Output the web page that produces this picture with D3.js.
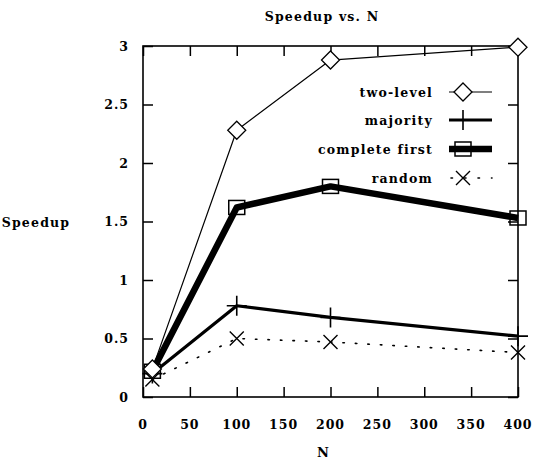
<!DOCTYPE html>
<html><head><meta charset="utf-8">
<script src="https://cdn.jsdelivr.net/npm/d3@7"></script>
<style>body{margin:0;background:#fff}</style>
</head><body><svg id="c" width="535" height="464"></svg>
<script>
const nValues = [10, 100, 200, 400];
const twoLevel = [0.24, 2.28, 2.88, 2.99];
const majority = [0.20, 0.78, 0.68, 0.52];
const completeFirst = [0.22, 1.62, 1.80, 1.53];
const random = [0.15, 0.50, 0.47, 0.38];
const xTicks = [0, 50, 100, 150, 200, 250, 300, 350, 400];
const yTicks = [0, 0.5, 1, 1.5, 2, 2.5, 3];
const yTickLabels = ["0", "0.5", "1", "1.5", "2", "2.5", "3"];
const seriesNames = ["two-level", "majority", "complete first", "random"];

const svg = d3.select("#c");
const font = "'DejaVu Serif', serif";
const x = d3.scaleLinear().domain([0, 400]).range([143, 518]);
const y = d3.scaleLinear().domain([0, 3]).range([397, 46]);
const L = x.range()[0], R = x.range()[1], T = y.range()[1], B = y.range()[0];

// frame
svg.append("rect").attr("x", L).attr("y", T).attr("width", R - L).attr("height", B - T)
  .attr("fill", "none").attr("stroke", "#000").attr("stroke-width", 1.6);

// axes with inward ticks
svg.append("g").attr("transform", `translate(0,${B})`)
  .call(d3.axisTop(x).tickValues(xTicks).tickSize(10).tickFormat(""))
  .call(g => g.select(".domain").remove());
svg.append("g").attr("transform", `translate(0,${T})`)
  .call(d3.axisBottom(x).tickValues(xTicks).tickSize(10).tickFormat(""))
  .call(g => g.select(".domain").remove());
svg.append("g").attr("transform", `translate(${L},0)`)
  .call(d3.axisRight(y).tickValues(yTicks).tickSize(10).tickFormat(""))
  .call(g => g.select(".domain").remove());
svg.append("g").attr("transform", `translate(${R},0)`)
  .call(d3.axisLeft(y).tickValues(yTicks).tickSize(10).tickFormat(""))
  .call(g => g.select(".domain").remove());
svg.selectAll(".tick line").attr("stroke", "#000").attr("stroke-width", 1.5);

// tick labels
svg.append("g").selectAll("text").data(xTicks).join("text")
  .attr("x", d => x(d)).attr("y", 429).attr("text-anchor", "middle")
  .attr("font-family", font).attr("font-weight", "bold").attr("font-size", 12.5)
  .attr("letter-spacing", 1).text(d => d);
svg.append("g").selectAll("text").data(yTicks).join("text")
  .attr("x", 129).attr("y", d => y(d) + 4.5).attr("text-anchor", "end")
  .attr("font-family", font).attr("font-weight", "bold").attr("font-size", 12.5)
  .attr("letter-spacing", 1).text((d, i) => yTickLabels[i]);

// titles
svg.append("text").attr("x", 322).attr("y", 21).attr("text-anchor", "middle")
  .attr("font-family", font).attr("font-weight", "bold").attr("font-size", 12.5)
  .attr("letter-spacing", 1.2).text("Speedup vs. N");
svg.append("text").attr("x", 36).attr("y", 227).attr("text-anchor", "middle")
  .attr("font-family", font).attr("font-weight", "bold").attr("font-size", 12.5)
  .attr("letter-spacing", 1.2).text("Speedup");
svg.append("text").attr("x", 323).attr("y", 457).attr("text-anchor", "middle")
  .attr("font-family", font).attr("font-weight", "bold").attr("font-size", 13)
  .text("N");

const line = vals => d3.line().x((d, i) => x(nValues[i])).y(d => y(d))(vals);
const styles = [
  {vals: twoLevel, w: 1.2, dash: null, marker: "diamond"},
  {vals: majority, w: 3.2, dash: null, marker: "plus"},
  {vals: completeFirst, w: 6.5, dash: null, marker: "square"},
  {vals: random, w: 1.6, dash: "1.5,11", marker: "x"}
];

function drawMarker(g, type, cx, cy) {
  const s = 9;
  if (type === "diamond") {
    g.append("path").attr("d", `M${cx},${cy - s}L${cx + s},${cy}L${cx},${cy + s}L${cx - s},${cy}Z`)
      .attr("fill", "#fff").attr("stroke", "#000").attr("stroke-width", 1.3);
  } else if (type === "plus") {
    g.append("path").attr("d", `M${cx - 10},${cy}H${cx + 10}M${cx},${cy - 10}V${cy + 10}`)
      .attr("stroke", "#000").attr("stroke-width", 1.6);
  } else if (type === "square") {
    g.append("rect").attr("x", cx - 8).attr("y", cy - 7).attr("width", 16).attr("height", 14)
      .attr("fill", "none").attr("stroke", "#000").attr("stroke-width", 1.5);
  } else if (type === "x") {
    g.append("path").attr("d", `M${cx - 7},${cy - 7}L${cx + 7},${cy + 7}M${cx - 7},${cy + 7}L${cx + 7},${cy - 7}`)
      .attr("stroke", "#000").attr("stroke-width", 1.4);
  }
}

const plot = svg.append("g");
styles.slice().reverse().forEach(s => {
  plot.append("path").attr("d", line(s.vals)).attr("fill", "none").attr("stroke", "#000")
    .attr("stroke-width", s.w).attr("stroke-linejoin", "round")
    .attr("stroke-linecap", s.dash ? "round" : "butt")
    .attr("stroke-dasharray", s.dash);
  s.vals.forEach((v, i) => drawMarker(plot, s.marker, x(nValues[i]), y(v)));
});

// legend
const legY = [92, 120, 149, 178];
styles.forEach((s, i) => {
  const ly = legY[i];
  svg.append("text").attr("x", 433).attr("y", ly + 4.5).attr("text-anchor", "end")
    .attr("font-family", font).attr("font-weight", "bold").attr("font-size", 12.5)
    .attr("letter-spacing", 1.2).text(seriesNames[i]);
  svg.append("line").attr("x1", 449).attr("x2", 492).attr("y1", ly).attr("y2", ly)
    .attr("stroke", "#000").attr("stroke-width", s.w)
    .attr("stroke-linecap", s.dash ? "round" : "butt")
    .attr("stroke-dasharray", s.dash ? "1.5,12" : null)
    .attr("stroke-dashoffset", s.dash ? -2 : null);
  drawMarker(svg, s.marker, 463, ly);
});
</script></body></html>
